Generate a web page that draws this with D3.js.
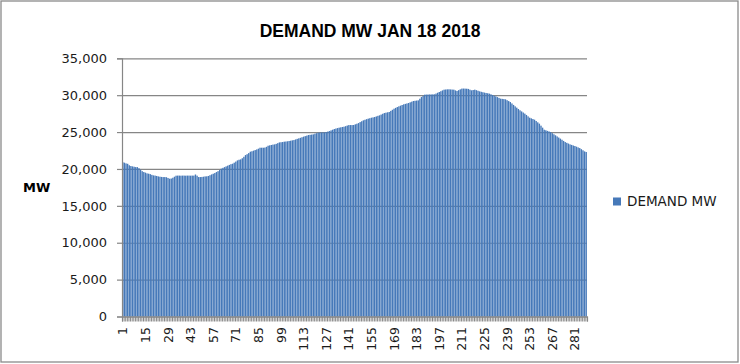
<!DOCTYPE html>
<html><head><meta charset="utf-8">
<script src="https://cdn.jsdelivr.net/npm/d3@7"></script>
<style>html,body{margin:0;padding:0;background:#fff;} svg{display:block}</style>
</head><body>
<svg id="chart" width="740" height="364"></svg>
<script>
const chartTitle = "DEMAND MW JAN 18 2018";
const seriesName = "DEMAND MW";
const yAxisTitle = "MW";
const demand = [
20900,20850,20750,20700,20500,20400,20350,20300,20250,20250,20100,19900,
19700,19580,19500,19400,19360,19300,19200,19130,19100,19050,18990,18950,
18920,18900,18900,18880,18780,18680,18700,18810,18950,19090,19100,19100,
19090,19100,19100,19090,19100,19100,19090,19100,19100,19250,19090,18900,
18900,18920,18950,18990,19000,19050,19150,19260,19350,19450,19580,19700,
19850,20040,20150,20250,20350,20450,20550,20650,20710,20850,21000,21160,
21250,21300,21450,21650,21880,22000,22150,22340,22400,22480,22560,22650,
22750,22880,22880,22880,22900,23000,23150,23200,23250,23300,23330,23400,
23500,23600,23620,23650,23700,23720,23750,23790,23830,23880,23920,24000,
24080,24150,24220,24300,24380,24450,24520,24600,24630,24660,24690,24780,
24850,24920,24940,24950,24960,24960,25000,25070,25140,25230,25320,25410,
25480,25540,25600,25640,25690,25730,25800,25880,25950,25950,25950,25960,
26050,26130,26220,26350,26470,26590,26670,26750,26820,26880,26950,26990,
27040,27120,27200,27270,27370,27480,27580,27630,27680,27720,27870,28020,
28170,28280,28390,28490,28580,28670,28760,28820,28880,28940,29030,29120,
29210,29240,29270,29300,29520,29750,29910,30070,30080,30090,30100,30100,
30110,30120,30220,30330,30430,30540,30650,30750,30770,30790,30800,30780,
30760,30750,30650,30570,30680,30790,30890,30900,30890,30880,30850,30750,
30660,30700,30750,30680,30600,30520,30460,30400,30350,30300,30260,30210,
30120,30030,29930,29840,29740,29630,29530,29500,29470,29440,29320,29200,
29070,28880,28680,28490,28310,28130,27950,27800,27650,27500,27320,27130,
26950,26860,26770,26680,26500,26320,26140,25870,25600,25320,25240,25160,
25080,25000,24850,24700,24560,24410,24260,24110,23960,23800,23650,23540,
23440,23330,23260,23180,23110,23020,22920,22830,22680,22530,22380,22300
];
const categories = demand.map((d, i) => i + 1);
const xTickLabels = [1,15,29,43,57,71,85,99,113,127,141,155,169,183,197,211,225,239,253,267,281];
const yTickValues = [0,5000,10000,15000,20000,25000,30000,35000];

const svg = d3.select("#chart");
const gray = "#868686";
const textColor = "#1a1a1a";
const barColor = "#4679b9";

svg.append("rect").attr("x",1).attr("y",1).attr("width",737).attr("height",361)
  .attr("fill","#fff").attr("stroke","#8a8a8a").attr("stroke-width",1.3);

const m = {left:122, right:587, top:58.3, bottom:316.5};
const x = d3.scaleBand().domain(categories).range([m.left, m.right]).paddingInner(0.14).paddingOuter(0.07);
const xEdge = d3.scaleLinear().domain([0, categories.length]).range([m.left, m.right]);
const y = d3.scaleLinear().domain([0, 35000]).range([m.bottom, m.top]);

// gridlines
const grid = svg.append("g").attr("transform", `translate(${m.left},0)`)
  .call(d3.axisLeft(y).tickValues(yTickValues).tickSize(-(m.right - m.left)).tickFormat(""));
grid.select(".domain").remove();
grid.selectAll("line").attr("stroke", gray).attr("stroke-width", 1.2);

// bars
svg.append("g").selectAll("rect").data(demand).join("rect")
  .attr("x", (d, i) => x(categories[i]))
  .attr("width", x.bandwidth())
  .attr("y", d => y(d))
  .attr("height", d => y(0) - y(d))
  .attr("fill", barColor);

// y axis
const yAxis = svg.append("g").attr("transform", `translate(${m.left},0)`)
  .call(d3.axisLeft(y).tickValues(yTickValues).tickSize(5).tickPadding(10).tickFormat(d3.format(",")));
yAxis.select(".domain").attr("stroke", gray).attr("stroke-width", 1.2);
yAxis.selectAll("line").attr("stroke", gray).attr("stroke-width", 1.2);
yAxis.selectAll("text").attr("font-family", "DejaVu Sans").attr("font-size", 13).attr("fill", textColor);

// x axis boundary ticks
const xTicksG = svg.append("g").attr("transform", `translate(0,${m.bottom})`)
  .call(d3.axisBottom(xEdge).tickValues(d3.range(0, categories.length + 1)).tickSize(5).tickFormat(""));
xTicksG.select(".domain").attr("stroke", gray).attr("stroke-width", 1.2);
xTicksG.selectAll("line").attr("stroke", gray).attr("stroke-width", 1);

// x axis labels
const xAxis = svg.append("g").attr("transform", `translate(0,${m.bottom})`)
  .call(d3.axisBottom(x).tickValues(xTickLabels).tickSize(0));
xAxis.select(".domain").remove();
xAxis.selectAll("text")
  .attr("transform", "rotate(-90)")
  .attr("text-anchor", "end")
  .attr("x", -10.5).attr("y", 0).attr("dy", "0.36em")
  .attr("font-family", "DejaVu Sans").attr("font-size", 12.5).attr("fill", textColor);

// title
svg.append("text").attr("x", 370).attr("y", 37).attr("text-anchor", "middle")
  .attr("font-family", "Liberation Sans, Arial").attr("font-weight", "bold").attr("font-size", 17.5)
  .attr("fill", "#000").text(chartTitle);

// y axis title
svg.append("text").attr("x", 23).attr("y", 192)
  .attr("font-family", "DejaVu Sans").attr("font-weight", "bold").attr("font-size", 13)
  .attr("fill", "#000").text(yAxisTitle);

// legend
const lg = svg.append("g").attr("transform", "translate(613,197.5)");
lg.append("rect").attr("width", 8).attr("height", 8).attr("fill", barColor);
lg.append("text").attr("x", 14).attr("y", 4).attr("dy", "0.36em")
  .attr("font-family", "DejaVu Sans").attr("font-size", 13.5).attr("fill", textColor).text(seriesName);
</script>
</body></html>
